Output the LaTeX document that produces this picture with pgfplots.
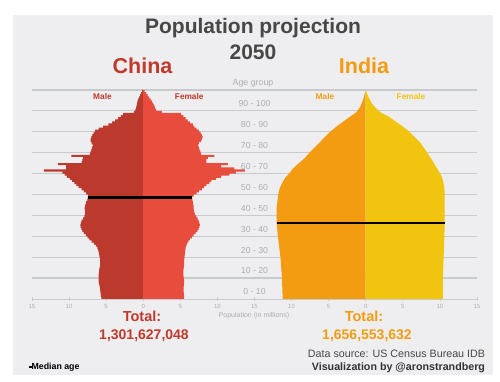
\documentclass[border=0pt]{standalone}
\usepackage{pgfplots}
\pgfplotsset{compat=1.18}
\usepackage{pgfplotstable}
\usepackage{fontspec}
\setmainfont{Liberation Sans}
\newcommand{\fs}[1]{\fontsize{#1}{#1}\selectfont}
\definecolor{chinaM}{HTML}{BB3A2D}
\definecolor{chinaF}{HTML}{E74C3C}
\definecolor{chinaT}{HTML}{C0392B}
\definecolor{indiaM}{HTML}{F39C12}
\definecolor{indiaF}{HTML}{F1C40F}
\definecolor{panel}{HTML}{EEEEF0}
\definecolor{gridc}{HTML}{C8CBCD}
\definecolor{titlec}{HTML}{474747}
\definecolor{darkt}{HTML}{333333}
\definecolor{lightt}{HTML}{AEAEAE}

% China: a = top of one-year bar (age+1), m = male, f = female (millions)
\pgfplotstableread{
a m f
0 0 0
1 5.65 5.50
2 5.70 5.50
3 5.75 5.48
4 5.78 5.46
5 5.80 5.45
6 5.85 5.46
7 5.92 5.48
8 5.98 5.50
9 6.00 5.50
10 6.00 5.48
11 6.00 5.45
12 6.00 5.42
13 5.98 5.40
14 5.95 5.42
15 5.90 5.45
16 5.85 5.47
17 5.82 5.50
18 5.80 5.50
19 5.82 5.52
20 5.85 5.55
21 5.90 5.58
22 5.95 5.60
23 6.00 5.63
24 6.08 5.67
25 6.20 5.72
26 6.40 5.80
27 6.65 5.92
28 6.95 6.10
29 7.25 6.30
30 7.50 6.55
31 7.75 6.80
32 8.00 7.05
33 8.20 7.30
34 8.35 7.48
35 8.45 7.58
36 8.48 7.62
37 8.42 7.58
38 8.30 7.48
39 8.12 7.32
40 7.95 7.15
41 7.88 7.00
42 7.85 6.90
43 7.88 6.82
44 7.90 6.80
45 7.85 6.78
46 7.78 6.72
47 7.70 6.68
48 7.55 6.62
49 7.45 6.58
50 7.45 6.80
51 7.70 7.20
52 8.00 7.50
53 8.30 7.90
54 8.70 8.20
55 9.00 8.50
56 9.30 8.90
57 9.60 9.20
58 9.90 9.80
59 10.30 10.50
60 10.60 11.60
61 10.90 12.50
62 13.40 13.70
63 10.40 12.30
64 10.40 10.50
65 11.50 11.40
66 8.30 8.50
67 8.20 8.50
68 8.10 8.70
69 9.70 9.60
70 7.20 7.80
71 7.10 7.70
72 7.00 7.60
73 6.90 7.50
74 6.80 7.40
75 6.95 7.50
76 7.10 7.80
77 7.10 7.90
78 7.00 8.00
79 6.85 7.90
80 6.70 7.75
81 6.50 7.55
82 6.00 7.20
83 5.40 6.90
84 4.70 6.70
85 4.20 6.30
86 3.80 6.00
87 3.40 5.70
88 3.00 5.40
89 2.70 5.10
90 1.25 2.50
91 1.05 1.75
92 0.95 1.60
93 0.90 1.50
94 0.85 1.35
95 0.80 1.20
96 0.70 1.00
97 0.55 0.80
98 0.42 0.60
99 0.30 0.40
100 0.15 0.20
100 0 0
}\china

% India: age, male, female (millions)
\pgfplotstableread{
age m f
0 0 0
0 11.2 10.4
10 11.3 10.4
20 11.5 10.5
30 11.85 10.6
36 12.0 10.65
44 12.0 10.65
50 11.8 10.65
53 11.6 10.6
56 11.2 10.45
58 10.85 10.3
60 10.35 10.05
62.5 9.8 9.6
65 9.0 9.2
67.5 8.2 8.75
70 7.6 8.3
72.5 6.9 7.8
75 6.2 7.3
77.5 5.5 6.6
80 4.8 5.9
82.5 3.95 5.0
85 3.0 4.0
87.5 2.0 3.0
89 1.4 2.1
90.5 1.0 1.6
92 0.75 1.2
94 0.5 0.75
96 0.3 0.45
98 0.15 0.2
99.5 0.03 0.04
100 0 0
}\india

\begin{document}
\begin{tikzpicture}[t/.style={inner sep=0pt, outer sep=0pt}]
\fill[white] (-32pt,-83pt) rectangle (468pt,299pt);
\useasboundingbox (-32pt,-83pt) rectangle (468pt,299pt);
\fill[panel] (-19pt,-76pt) rectangle (461pt,284pt);
\begin{axis}[
  at={(0pt,0pt)}, anchor=south west,
  scale only axis, width=445pt, height=209pt,
  xmin=-15, xmax=45, ymin=0, ymax=100,
  axis x line*=bottom, axis y line*=left,
  y axis line style={draw=none},
  x axis line style={draw=gridc, line width=0.9pt},
  ytick={10,20,...,100}, yticklabels={},
  ymajorgrids, grid style={draw=gridc, line width=1.2pt},
  xtick={-15,-10,...,45},
  xticklabels={15,10,5,0,5,10,15,10,5,0,5,10,15},
  tick align=center, major tick length=4pt,
  tick style={draw=gridc, line width=0.8pt},
  ytick style={draw=none},
  xticklabel style={font=\fs{6}, text=lightt},
  clip=false,
]
\addplot[draw=none, fill=chinaM, const plot] table[x expr=-\thisrow{m}, y=a] {\china};
\addplot[draw=none, fill=chinaF, const plot] table[x=f, y=a] {\china};
\addplot[draw=none, fill=indiaM] table[x expr=30-\thisrow{m}, y=age] {\india};
\addplot[draw=none, fill=indiaF] table[x expr=30+\thisrow{f}, y=age] {\india};
\addplot[black, line width=2.3pt] coordinates {(-7.45,48.6) (6.56,48.6)};
\addplot[black, line width=2.3pt] coordinates {(18.0,36.3) (40.65,36.3)};

\node[t, font=\fs{8.7}, text=lightt] at (axis cs:15,3.4) {0 - 10};
\node[t, font=\fs{8.7}, text=lightt] at (axis cs:15,13.4) {10 - 20};
\node[t, font=\fs{8.7}, text=lightt] at (axis cs:15,23.4) {20 - 30};
\node[t, font=\fs{8.7}, text=lightt] at (axis cs:15,33.4) {30 - 40};
\node[t, font=\fs{8.7}, text=lightt] at (axis cs:15,43.4) {40 - 50};
\node[t, font=\fs{8.7}, text=lightt] at (axis cs:15,53.4) {50 - 60};
\node[t, font=\fs{8.7}, text=lightt] at (axis cs:15,63.4) {60 - 70};
\node[t, font=\fs{8.7}, text=lightt] at (axis cs:15,73.4) {70 - 80};
\node[t, font=\fs{8.7}, text=lightt] at (axis cs:15,83.4) {80 - 90};
\node[t, font=\fs{8.7}, text=lightt] at (axis cs:15,93.4) {90 - 100};

\node[t, font=\fs{8.3}\bfseries, text=chinaT] at (axis cs:-5.5,97.1) {Male};
\node[t, font=\fs{8.3}\bfseries, text=chinaT] at (axis cs:6.2,97.1) {Female};
\node[t, font=\fs{8.3}\bfseries, text=indiaM] at (axis cs:24.5,97.1) {Male};
\node[t, font=\fs{8.3}\bfseries, text=indiaF] at (axis cs:36.1,97.1) {Female};
\end{axis}

\node[t, anchor=base, font=\fs{21}\bfseries, text=titlec] at (221pt,265pt) {Population projection};
\node[t, anchor=base, font=\fs{21}\bfseries, text=titlec] at (221pt,239pt) {2050};
\node[t, anchor=base, font=\fs{21.5}\bfseries, text=chinaT] at (110.5pt,225pt) {China};
\node[t, anchor=base, font=\fs{21.5}\bfseries, text=indiaM] at (332pt,225pt) {India};
\node[t, anchor=base, font=\fs{8.8}, text=lightt] at (221pt,213.5pt) {Age group};
\node[t, font=\fs{7}, text=lightt] at (222pt,-17pt) {Population (in millions)};

\node[t, anchor=base, font=\fs{14.5}\bfseries, text=chinaT] at (110pt,-23pt) {Total:};
\node[t, anchor=base, font=\fs{14}\bfseries, text=chinaT] at (112pt,-41pt) {1,301,627,048};
\node[t, anchor=base, font=\fs{14.5}\bfseries, text=indiaM] at (332pt,-23pt) {Total:};
\node[t, anchor=base, font=\fs{14}\bfseries, text=indiaM] at (335pt,-41pt) {1,656,553,632};

\node[t, anchor=base east, font=\fs{10.7}, text=titlec] at (453pt,-59pt) {Data source: US Census Bureau IDB};
\node[t, anchor=base east, font=\fs{10.7}\bfseries, text=darkt] at (453pt,-72pt) {Visualization by @aronstrandberg};
\node[t, anchor=base west, font=\fs{8.8}\bfseries, text=black] at (-3pt,-71pt) {\rule[1.8pt]{2.6pt}{2.6pt}Median age};
\end{tikzpicture}
\end{document}
